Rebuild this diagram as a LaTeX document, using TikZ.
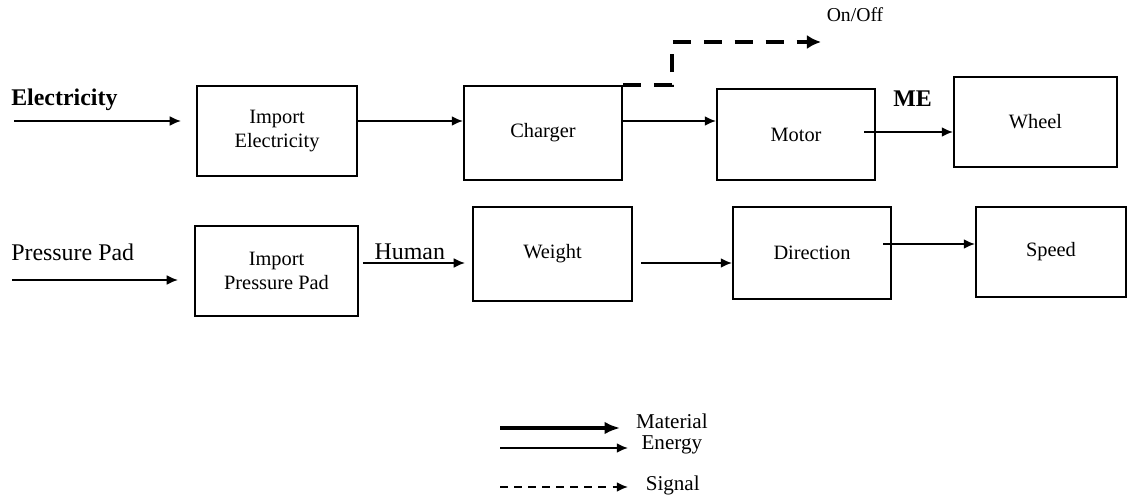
\documentclass[tikz,border=0pt]{standalone}
\usepackage{fontspec}
\setmainfont{Liberation Serif}
\usetikzlibrary{calc,arrows.meta}

\tikzset{
  block/.style={draw, line width=1.4pt, inner sep=0pt, align=center,
    font=\fontsize{14.5}{17}\selectfont},
  lbl/.style={inner sep=0pt, font=\fontsize{17}{19}\selectfont},
  legtext/.style={inner sep=0pt, font=\fontsize{15}{17}\selectfont},
  flow/.style={line width=1.3pt, -{Latex[length=8pt,width=7pt]}},
  material/.style={line width=3pt, -{Latex[length=11pt,width=9pt]}},
  sig/.style={line width=2.6pt, dash pattern=on 13pt off 9pt,
    -{Latex[length=10pt,width=10pt]}},
  thinsig/.style={line width=1.3pt, dash pattern=on 5.5pt off 4.5pt,
    -{Latex[length=8pt,width=7pt]}},
}

\begin{document}
\begin{tikzpicture}[x=0.025cm, y=-0.025cm]
    \useasboundingbox (0,0) rectangle (1128,497);

    % function blocks
    \foreach \nm/\cx/\cy/\w/\h/\txt in {
        ie/277/131/4.0/2.25/{Import\\Electricity},
        charger/543/133/3.95/2.35/{Charger},
        motor/796/134.5/3.95/2.275/{Motor},
        wheel/1035.5/122/4.075/2.25/{Wheel},
        ipp/276.5/271/4.075/2.25/{Import\\Pressure Pad},
        weight/552.5/254/3.975/2.35/{Weight},
        dir/812/253/3.95/2.3/{Direction},
        speed/1051/252/3.75/2.25/{Speed}}{%
      \node[block, minimum width=\w cm, minimum height=\h cm] (\nm) at (\cx,\cy) {\txt};
    }

    \coordinate (elecin) at (14,121);
    \coordinate (ppin)   at (12,280);
    \coordinate (sigend) at (821,42);

    \node[lbl, anchor=west, font=\fontsize{17}{19}\selectfont\bfseries] (eleclbl) at (11,100) {Electricity};
    \node[lbl, anchor=west] (pplbl) at (11,252) {Pressure Pad};
    \node[lbl, anchor=west, font=\fontsize{17}{19}\selectfont\bfseries] (melbl) at (893,99) {ME};
    \node[inner sep=0pt, font=\fontsize{14}{16}\selectfont] (onoff) at (855,15) {On/Off};

    % top row
    \draw[flow] (elecin) -- ($(elecin -| ie.west)+(-15,0)$);
    \draw[flow] (ie.east |- elecin) -- (charger.west |- elecin);
    \draw[flow] (charger.east |- elecin) -- (motor.west |- elecin);
    \draw[flow, shorten <=-8.5pt] ($(motor.east)+(0,-2.5)$) coordinate (mw) -- (mw -| wheel.west);
    \draw[sig] (charger.north east) -- ++(49,0) |- (sigend);

    % bottom row
    \draw[flow] (ppin) -- ($(ppin -| ipp.west)+(-16,0)$);
    \draw[flow, shorten <=2.8pt, shorten >=5pt] ($(ipp.east)+(0,-8)$) coordinate (hw)
      -- (hw -| weight.west) node[lbl, pos=0.45, above=1.5pt] (human) {Human};
    \draw[flow, shorten <=5.7pt] ($(weight.east)+(0,9)$) coordinate (wd) -- (wd -| dir.west);
    \draw[flow, shorten <=-6.4pt] ($(dir.east)+(0,-9)$) coordinate (ds) -- (ds -| speed.west);

    % legend
    \coordinate (legm) at (500,428);
    \coordinate (lege) at (500,448);
    \coordinate (legs) at (500,487);
    \draw[material] (legm) -- ++(120,0)
      node[legtext, anchor=west, xshift=10pt, yshift=5pt] (matlbl) {Material};
    \draw[flow] (lege) -- ++(128,0)
      node[legtext, anchor=west, xshift=9pt, yshift=2pt] (enlbl) {Energy};
    \draw[thinsig] (legs) -- ++(128,0)
      node[legtext, anchor=west, xshift=12pt, yshift=1pt] (siglbl) {Signal};
\end{tikzpicture}
\end{document}
